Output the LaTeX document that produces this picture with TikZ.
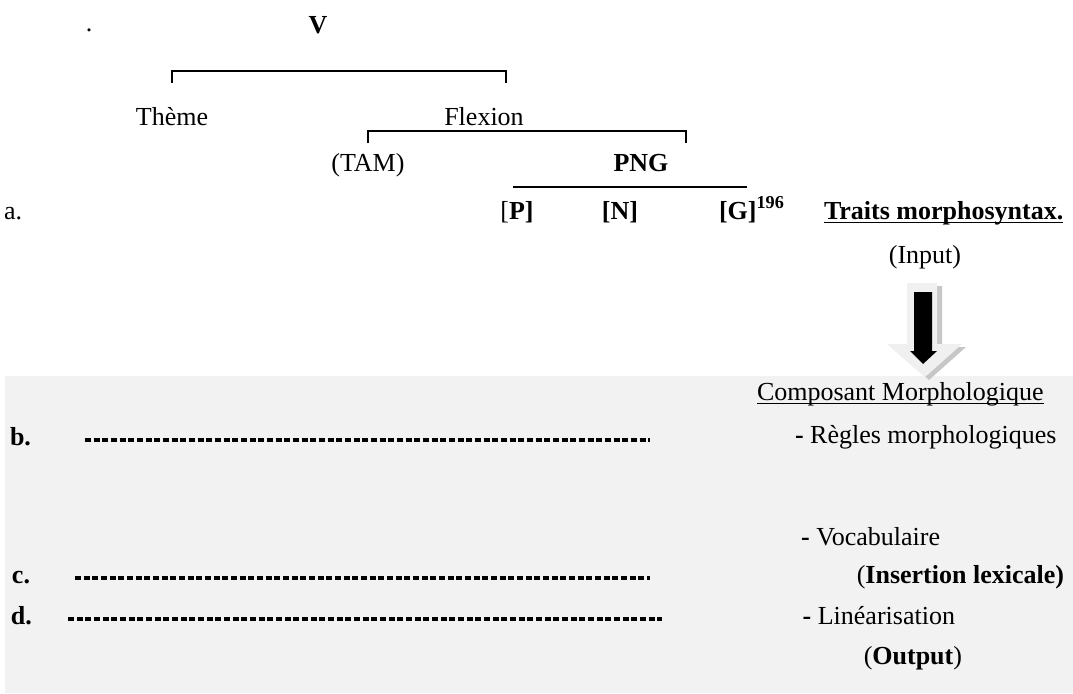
\documentclass[tikz,border=0pt]{standalone}
\usepackage{fontspec}
\setmainfont{Liberation Serif}
\begin{document}
\begin{tikzpicture}[x=0.75pt,y=-0.75pt,
  txt/.style={inner sep=0pt,outer sep=0pt,font=\fontsize{19.5}{23}\selectfont},
  brk/.style={line width=1.4pt},
  dashrow/.style={line width=2.4pt,dash pattern=on 4.6pt off 1.9pt},
  uline/.style={line width=1.1pt}]
\useasboundingbox (0,0) rectangle (1073,693);
\fill[white] (0,0) rectangle (1073,693);
% grey panel
\fill[fill=black!5] (5,376) rectangle (1073,693);

% tree
\node[txt,anchor=base] (dot) at (89,31) {.};
\node[txt,anchor=base] (V) at (318,33) {\textbf{V}};
\draw[brk] (172,83) -- (172,71) -- (506,71) -- (506,83);
\node[txt,anchor=base] (theme) at (172,125) {Thème};
\node[txt,anchor=base] (flex) at (484,125) {Flexion};
\draw[brk] (368,143) -- (368,131) -- (686,131) -- (686,143);
\node[txt,anchor=base] (tam) at (368,171) {(TAM)};
\node[txt,anchor=base] (png) at (641,171) {\textbf{PNG}};
\draw[brk] (513,187) -- (747,187);

\node[txt,anchor=base west] (a) at (4,219) {a.};
\node[txt,anchor=base] (P) at (517,219) {[\textbf{P]}};
\node[txt,anchor=base] (N) at (620,219) {\textbf{[N]}};
\node[txt,anchor=base west] (G) at (719,219) {\textbf{[G]\textsuperscript{196}}};
\node[txt,anchor=base west] (traits) at (824,219) {\textbf{Traits morphosyntax.}};
\draw[uline] ([yshift=-2.6pt]traits.base west) -- ([yshift=-2.6pt]traits.base east);
\node[txt,anchor=base] (input) at (925,263) {(Input)};

% block arrow
\fill[black!22] (911,286) -- (942,286) -- (942,347) -- (966,347) -- (929,380) -- (891,347) -- (911,347) -- cycle;
\fill[black!6] (907,283) -- (937,283) -- (937,344) -- (962,344) -- (925,377) -- (887,344) -- (907,344) -- cycle;
\fill[black] (914,292) -- (932,292) -- (932,351) -- (937,351) -- (923,364) -- (910,351) -- (914,351) -- cycle;

% morphological component
\node[txt,anchor=base west] (comp) at (757,400) {Composant Morphologique};
\draw[uline] ([yshift=-2.6pt]comp.base west) -- ([yshift=-2.6pt]comp.base east);

\node[txt,anchor=base west] (b) at (10,445) {\textbf{b.}};
\coordinate (bs) at (85,440);
\coordinate (be) at (650,440);
\draw[dashrow] (bs) -- (be);
\node[txt,anchor=base west] (regles) at (795,443) {\textbf{-} Règles morphologiques};

\node[txt,anchor=base east] (voc) at (940,545) {\textbf{-} Vocabulaire};

\node[txt,anchor=base west] (c) at (12,583) {\textbf{c.}};
\coordinate (cs) at (75,578);
\coordinate (ce) at (650,578);
\draw[dashrow] (cs) -- (ce);
\node[txt,anchor=base east] (ins) at (1064,583) {(\textbf{Insertion lexicale)}};

\node[txt,anchor=base west] (d) at (11,624) {\textbf{d.}};
\coordinate (ds) at (68,619);
\coordinate (de) at (662,619);
\draw[dashrow] (ds) -- (de);
\node[txt,anchor=base east] (lin) at (955,624) {\textbf{-} Linéarisation};

\node[txt,anchor=base east] (out) at (962,664) {(\textbf{Output})};
\end{tikzpicture}
\end{document}
